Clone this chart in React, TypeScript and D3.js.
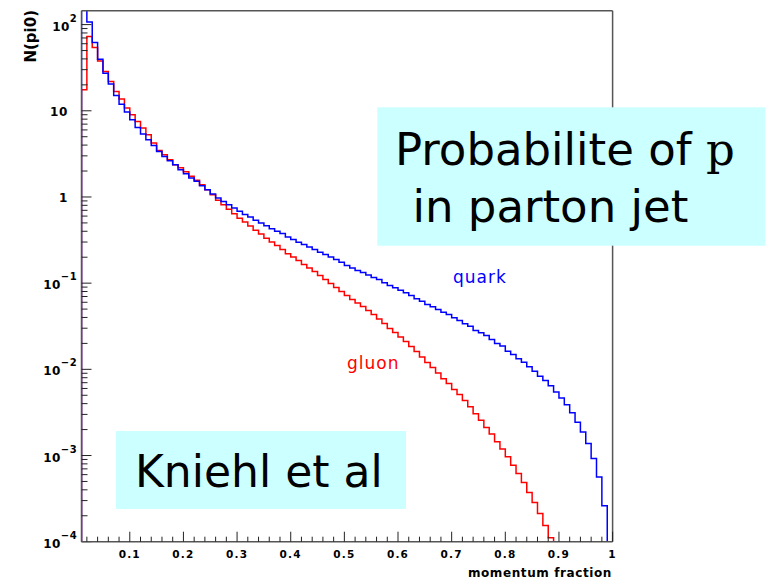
import React from 'react';
import * as d3 from 'd3';

// ---- data ----
const binStart = 0.01;
const binWidth = 0.01;

const quark = [
  200, 107, 61.9, 39.7, 27.3, 20.4, 15.0, 11.9, 9.66, 7.87,
  6.41, 5.37, 4.61, 3.96, 3.38, 2.95, 2.63, 2.37, 2.07, 1.86,
  1.66, 1.52, 1.35, 1.215, 1.083, 0.974, 0.889, 0.814, 0.746, 0.681,
  0.624, 0.586, 0.536, 0.5, 0.465, 0.429, 0.399, 0.376, 0.344, 0.32,
  0.298, 0.28, 0.263, 0.245, 0.228, 0.2145, 0.2017, 0.1877, 0.1747, 0.16,
  0.1504, 0.14, 0.1327, 0.124, 0.116, 0.11, 0.1008, 0.0938, 0.0882, 0.0827,
  0.0772, 0.0719, 0.0658, 0.0617, 0.0565, 0.0531, 0.0494, 0.046, 0.0433, 0.0396,
  0.0369, 0.0338, 0.0317, 0.0282, 0.0266, 0.0247, 0.0222, 0.02, 0.0186, 0.01626,
  0.0149, 0.01327, 0.01212, 0.01072, 0.00953, 0.00834, 0.0074, 0.00646, 0.00547, 0.00464,
  0.00389, 0.00314, 0.00243, 0.00187, 0.00138, 0.000923, 0.000562, 0.000262, 0,
];

const gluon = [
  17.5, 72.6, 54.1, 37.9, 28.5, 21.9, 16.7, 13.7, 10.75, 8.99,
  7.52, 6.3, 5.27, 4.22, 3.47, 3.09, 2.71, 2.37, 2.19, 1.96,
  1.74, 1.56, 1.39, 1.215, 1.063, 0.918, 0.814, 0.722, 0.64, 0.568,
  0.511, 0.459, 0.412, 0.371, 0.333, 0.301, 0.273, 0.245, 0.22, 0.2006,
  0.1828, 0.1643, 0.1496, 0.1363, 0.1225, 0.11, 0.0989, 0.0889, 0.0799, 0.0719,
  0.0646, 0.0588, 0.0536, 0.0481, 0.0433, 0.0384, 0.034, 0.0298, 0.0268, 0.0237,
  0.0211, 0.0184, 0.0161, 0.0139, 0.012, 0.01052, 0.00908, 0.00778, 0.00687, 0.00585,
  0.00512, 0.00436, 0.00369, 0.00306, 0.00256, 0.00212, 0.00178, 0.00144, 0.00119, 0.000966,
  0.000769, 0.000617, 0.000485, 0.000372, 0.000285, 0.000213, 0.000154, 0.000111, 0, 0,
  0, 0, 0, 0, 0, 0, 0, 0, 0,
];

const xTickValues = [0.1, 0.2, 0.3, 0.4, 0.5, 0.6, 0.7, 0.8, 0.9, 1.0];
const xTickLabels = ['0.1', '0.2', '0.3', '0.4', '0.5', '0.6', '0.7', '0.8', '0.9', '1'];
const yDecadeExps = [-4, -3, -2, -1, 0, 1, 2];
const yDomain = [1e-4, 145];
const xDomain = [0.01, 1];

// ---- layout ----
const W = 767;
const H = 580;
const L = 81.5;
const R = 612.6;
const T = 10.7;
const B = 541.7;

const axisFont = "'DejaVu Sans', Verdana, sans-serif";

export default function App() {
  const x = d3.scaleLinear().domain(xDomain).range([L, R]);
  const y = d3.scaleLog().domain(yDomain).range([B, T]);

  const histPath = (vals: number[]) => {
    const p = d3.path();
    p.moveTo(x(binStart), B);
    vals.forEach((v, i) => {
      const x0 = x(binStart + i * binWidth);
      const x1 = x(binStart + (i + 1) * binWidth);
      const yy = v > 0 ? y(v) : B;
      p.lineTo(x0, yy);
      p.lineTo(x1, yy);
    });
    return p.toString();
  };

  const xMinor = d3.range(1, 50).map((k) => +(k * 0.02).toFixed(2)).filter((v) => Math.abs(v * 10 - Math.round(v * 10)) > 1e-6);
  const yMinor: number[] = [];
  yDecadeExps.forEach((e) => {
    for (let m = 2; m <= 9; m++) {
      const v = m * Math.pow(10, e);
      if (v >= yDomain[0] && v <= yDomain[1]) yMinor.push(v);
    }
  });

  const axisColor = '#555';

  return (
    <svg width={W} height={H} style={{ position: 'absolute', left: 0, top: 0, background: '#fff' }}>
      <defs>
        <clipPath id="frame">
          <rect x={L} y={T} width={R - L} height={B - T} />
        </clipPath>
      </defs>
      <rect x={0} y={0} width={W} height={H} fill="#fff" />

      {/* histograms */}
      <g clipPath="url(#frame)" fill="none" strokeWidth={1.5}>
        <path d={histPath(gluon)} stroke="#ff0000" />
        <path d={histPath(quark)} stroke="#0000ff" />
      </g>

      {/* frame */}
      <line x1={L} x2={R} y1={T} y2={T} stroke={axisColor} strokeWidth={1.5} />
      <line x1={R} x2={R} y1={T} y2={B} stroke={axisColor} strokeWidth={1.5} />

      {/* y axis */}
      <line x1={L} x2={L} y1={T} y2={B} stroke={axisColor} strokeWidth={1.5} />
      {yDecadeExps.map((e) => {
        const v = Math.pow(10, e);
        return <line key={'ym' + e} x1={L} x2={L + 10} y1={y(v)} y2={y(v)} stroke="#222" strokeWidth={1} />;
      })}
      {yMinor.map((v, i) => (
        <line key={'yn' + i} x1={L} x2={L + 6} y1={y(v)} y2={y(v)} stroke="#222" strokeWidth={1} />
      ))}
      {yDecadeExps.map((e) => {
        const v = Math.pow(10, e);
        const yy = y(v);
        if (e === 0 || e === 1) {
          return (
            <text key={'yl' + e} x={68} y={yy + 5} textAnchor="end" fontFamily={axisFont} fontWeight="bold" fontSize={12} letterSpacing={0.6} fill="#000">
              {e === 0 ? '1' : '10'}
            </text>
          );
        }
        return (
          <text key={'yl' + e} x={77} y={yy + 6} textAnchor="end" fontFamily={axisFont} fontWeight="bold" fontSize={12} letterSpacing={0.4} fill="#000">
            <tspan>10</tspan>
            <tspan dy={-9} fontSize={10}>{String(e).replace('-', '\u2212')}</tspan>
          </text>
        );
      })}

      {/* x axis */}
      <line x1={L} x2={R} y1={B} y2={B} stroke={axisColor} strokeWidth={1.5} />
      {xTickValues.map((v) => (
        <line key={'xm' + v} x1={x(v)} x2={x(v)} y1={B} y2={B - 10} stroke="#222" strokeWidth={1} />
      ))}
      {xMinor.map((v) => (
        <line key={'xn' + v} x1={x(v)} x2={x(v)} y1={B} y2={B - 5} stroke="#222" strokeWidth={1} />
      ))}
      {xTickValues.map((v, i) => (
        <text key={'xl' + v} x={x(v)} y={558} textAnchor="middle" fontFamily={axisFont} fontWeight="bold" fontSize={10.5} letterSpacing={1.2} fill="#000">
          {xTickLabels[i]}
        </text>
      ))}

      {/* axis titles */}
      <text x={612} y={577} textAnchor="end" fontFamily={axisFont} fontWeight="bold" fontSize={12} letterSpacing={0.6} fill="#000">
        momentum fraction
      </text>
      <text transform="translate(36,10) rotate(-90)" textAnchor="end" fontFamily={axisFont} fontWeight="bold" fontSize={15} fill="#000">
        N(pi0)
      </text>

      {/* curve labels */}
      <text x={453} y={283} fontFamily={axisFont} fontSize={17} letterSpacing={1} fill="#0000ff">quark</text>
      <text x={347} y={369} fontFamily={axisFont} fontSize={17} letterSpacing={1} fill="#ff0000">gluon</text>

      {/* annotation boxes */}
      <rect x={377.3} y={107.3} width={388} height={138.4} fill="#ccffff" />
      <text x={395} y={165} fontFamily="'DejaVu Sans', Verdana, sans-serif" fontSize={45} fill="#000">
        Probabilite of <tspan fontFamily="'DejaVu Serif', serif">p</tspan>
      </text>
      <text x={412.5} y={221.7} fontFamily="'DejaVu Sans', Verdana, sans-serif" fontSize={45} fill="#000">
        in parton jet
      </text>

      <rect x={116} y={431} width={290} height={78} fill="#ccffff" />
      <text x={135} y={486.7} fontFamily="'DejaVu Sans', Verdana, sans-serif" fontSize={44} fill="#000">
        Kniehl et al
      </text>
    </svg>
  );
}
